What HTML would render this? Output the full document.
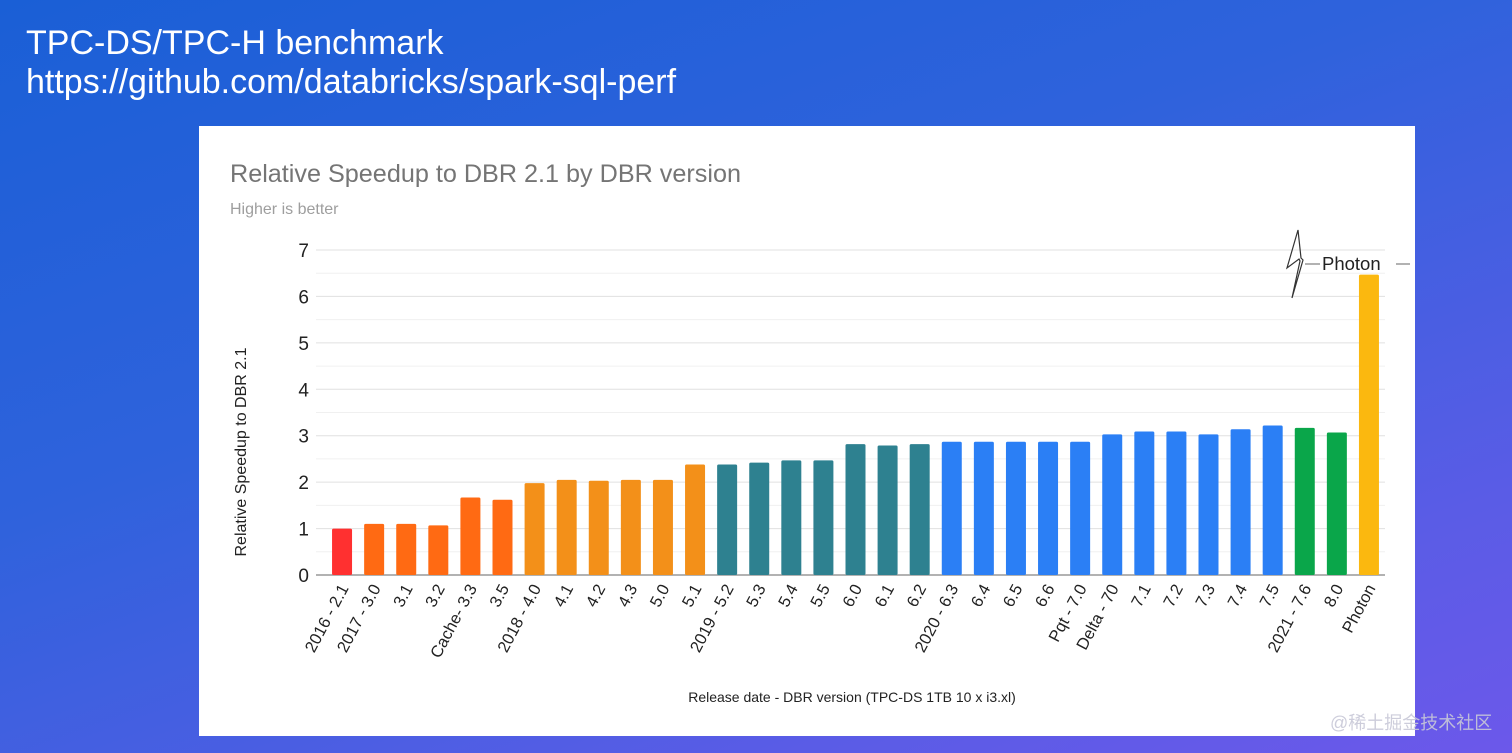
<!DOCTYPE html>
<html><head><meta charset="utf-8">
<style>
html,body{margin:0;padding:0;}
body{width:1512px;height:753px;overflow:hidden;position:relative;font-family:"Liberation Sans",sans-serif;
background:linear-gradient(160deg,#1a5fd6 0%,#2f62dc 40%,#5a5ce6 80%,#6c58ea 100%);}
.hdr{position:absolute;left:26px;color:#fff;font-size:34px;}
#panel{position:absolute;left:199px;top:126px;width:1216px;height:610px;background:#fff;}
#wm{position:absolute;left:1330px;top:709px;font-family:"Liberation Sans","Noto Sans CJK SC",sans-serif;font-size:18px;color:rgba(200,200,215,0.9);}
</style></head><body>
<div class="hdr" style="top:24px">TPC-DS/TPC-H benchmark</div>
<div class="hdr" style="top:63px">https://github.com/databricks/spark-sql-perf</div>
<div id="panel"></div>
<svg id="chart" width="1512" height="753" style="position:absolute;left:0;top:0">
<text x="230" y="182" font-size="25.2" fill="#757575">Relative Speedup to DBR 2.1 by DBR version</text>
<text x="230" y="214" font-size="16" fill="#9e9e9e">Higher is better</text>
<text transform="translate(246,452) rotate(-90)" text-anchor="middle" font-size="16" fill="#222">Relative Speedup to DBR 2.1</text>
<text x="852" y="702" text-anchor="middle" font-size="14" fill="#222">Release date - DBR version (TPC-DS 1TB 10 x i3.xl)</text>
<g id="grid"></g><g id="bars"></g><g id="xl"></g>
<g>
<polygon points="1298,230 1287,268 1299,259 1300,261 1292,298 1303,260 1301,258" fill="none" stroke="#333" stroke-width="1.2"/>
<line x1="1305" y1="264" x2="1320" y2="264" stroke="#666" stroke-width="1"/>
<line x1="1396" y1="264" x2="1410" y2="264" stroke="#666" stroke-width="1"/>
<text x="1322" y="270" font-size="18.5" fill="#222">Photon</text>
</g>
</svg>
<div id="wm">@稀土掘金技术社区</div>
<script>
const categories=["2016 - 2.1","2017 - 3.0","3.1","3.2","Cache- 3.3","3.5","2018 - 4.0","4.1","4.2","4.3","5.0","5.1","2019 - 5.2","5.3","5.4","5.5","6.0","6.1","6.2","2020 - 6.3","6.4","6.5","6.6","Pqt - 7.0","Delta - 70","7.1","7.2","7.3","7.4","7.5","2021 - 7.6","8.0","Photon"];
const values=[1.0,1.1,1.1,1.07,1.67,1.62,1.98,2.05,2.03,2.05,2.05,2.38,2.38,2.42,2.47,2.47,2.82,2.79,2.82,2.87,2.87,2.87,2.87,2.87,3.03,3.09,3.09,3.03,3.14,3.22,3.17,3.07,6.47];
const groups=[0,1,1,1,1,1,2,2,2,2,2,2,3,3,3,3,3,3,3,4,4,4,4,4,4,4,4,4,4,4,5,5,6];
const groupColors=["#ff3030","#ff6a13","#f39019","#2e8190","#2b7ff5","#0aa64a","#fbb80f"];
const yTicks=[0,1,2,3,4,5,6,7];
const NS="http://www.w3.org/2000/svg";
const x0=326,x1=1385,yb=575,yt=250,ymax=7;
const y=v=>yb-(v/ymax)*(yb-yt);
const step=(x1-x0)/categories.length;
const xc=i=>x0+step*(i+0.5);
const grid=document.getElementById('grid'),bars=document.getElementById('bars'),xl=document.getElementById('xl');
for(let k=0;k<=ymax*2;k++){const v=k/2;if(v===0)continue;
 const l=document.createElementNS(NS,'line');
 
 
 l.setAttribute('x1',316);l.setAttribute('x2',x1);l.setAttribute('y1',y(v));l.setAttribute('y2',y(v));
 l.setAttribute('stroke',k%2?'#f0f0f0':'#e0e0e0');l.setAttribute('stroke-width',1);grid.appendChild(l);}
yTicks.forEach(t=>{const tx=document.createElementNS(NS,'text');
 
 
 tx.setAttribute('x',309);tx.setAttribute('y',y(t)+7);tx.setAttribute('text-anchor','end');tx.setAttribute('font-size','19');tx.setAttribute('fill','#222');tx.textContent=t;grid.appendChild(tx);});
const ax=document.createElementNS(NS,'line');


ax.setAttribute('x1',316);ax.setAttribute('x2',x1);ax.setAttribute('y1',yb);ax.setAttribute('y2',yb);ax.setAttribute('stroke','#999');ax.setAttribute('stroke-width',1.5);grid.appendChild(ax);
values.forEach((v,i)=>{const r=document.createElementNS(NS,'rect');
 
 
 const w=20;r.setAttribute('x',xc(i)-w/2);r.setAttribute('y',y(v));r.setAttribute('width',w);r.setAttribute('height',yb-y(v));r.setAttribute('rx',1.5);
 r.setAttribute('fill',groupColors[groups[i]]);bars.appendChild(r);
 const t=document.createElementNS(NS,'text');
 
 
 t.setAttribute('transform',`translate(${xc(i)+7},${yb+13}) rotate(-62)`);t.setAttribute('text-anchor','end');t.setAttribute('font-size','16.5');t.setAttribute('fill','#222');t.textContent=categories[i];xl.appendChild(t);});
</script>
</body></html>
